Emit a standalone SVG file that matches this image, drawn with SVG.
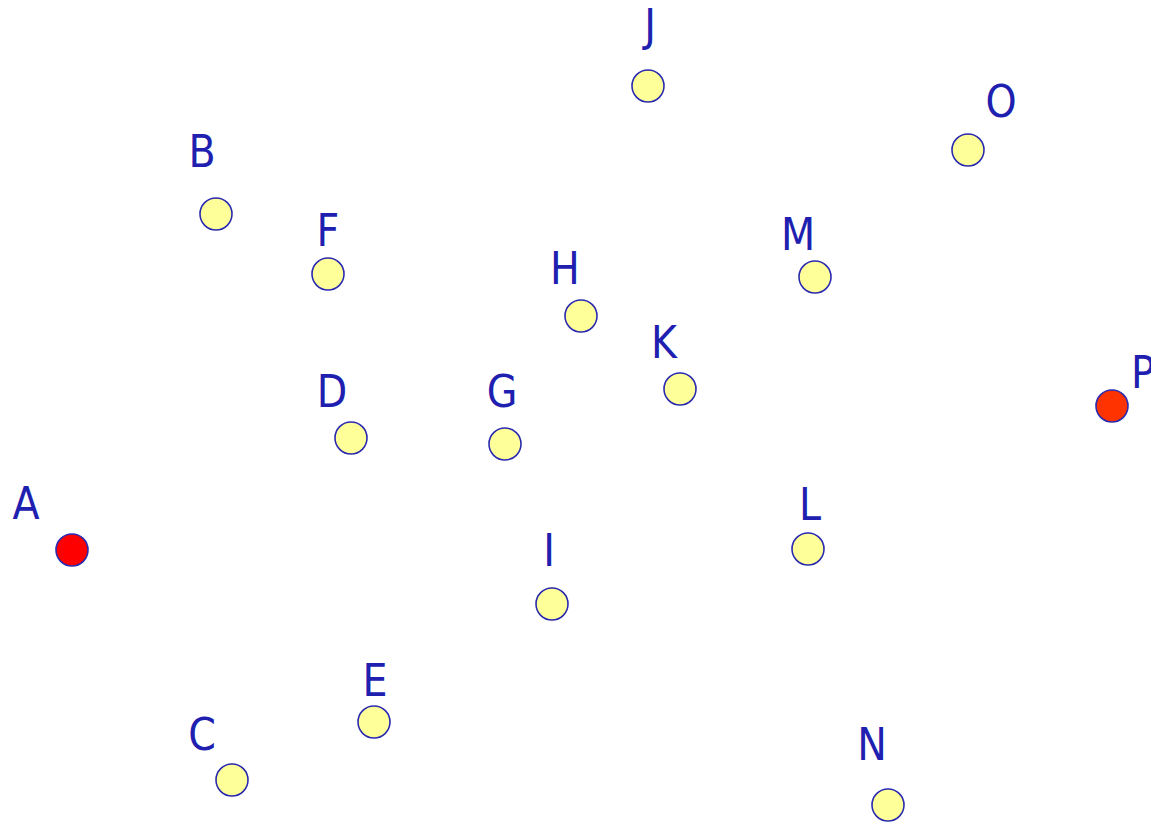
<svg xmlns="http://www.w3.org/2000/svg" width="1151" height="825" viewBox="0 0 1151 825">
<style>
.n circle{fill:#ffff99;stroke:#2a2ab0;stroke-width:1.6}
.n text{font-family:"DejaVu Sans Condensed","DejaVu Sans",sans-serif;font-stretch:condensed;font-size:44px;fill:#2020b0;text-anchor:middle}
</style>
<rect width="1151" height="825" fill="#fff"/>
<g id="connectors"></g>
<g id="A" class="n"><circle cx="72" cy="550" r="16" style="fill:#ff0000"/><text x="26" y="519">A</text></g>
<g id="B" class="n"><circle cx="216" cy="214" r="16"/><text x="202" y="167">B</text></g>
<g id="C" class="n"><circle cx="232" cy="780" r="16"/><text x="202" y="750">C</text></g>
<g id="D" class="n"><circle cx="351" cy="438" r="16"/><text x="332" y="407">D</text></g>
<g id="E" class="n"><circle cx="374" cy="722" r="16"/><text x="375" y="696">E</text></g>
<g id="F" class="n"><circle cx="328" cy="274" r="16"/><text x="328" y="246">F</text></g>
<g id="G" class="n"><circle cx="505" cy="444" r="16"/><text x="502" y="407">G</text></g>
<g id="H" class="n"><circle cx="581" cy="316" r="16"/><text x="565" y="284">H</text></g>
<g id="I" class="n"><circle cx="552" cy="604" r="16"/><text x="549" y="566">I</text></g>
<g id="J" class="n"><circle cx="648" cy="86" r="16"/><text x="650" y="41">J</text></g>
<g id="K" class="n"><circle cx="680" cy="389" r="16"/><text x="664" y="358">K</text></g>
<g id="L" class="n"><circle cx="808" cy="549" r="16"/><text x="810" y="520">L</text></g>
<g id="M" class="n"><circle cx="815" cy="277" r="16"/><text x="798" y="250">M</text></g>
<g id="N" class="n"><circle cx="888" cy="805" r="16"/><text x="872" y="760">N</text></g>
<g id="O" class="n"><circle cx="968" cy="150" r="16"/><text x="1001" y="117">O</text></g>
<g id="P" class="n"><circle cx="1112" cy="406" r="16" style="fill:#ff3300"/><text x="1143" y="388">P</text></g>
</svg>
